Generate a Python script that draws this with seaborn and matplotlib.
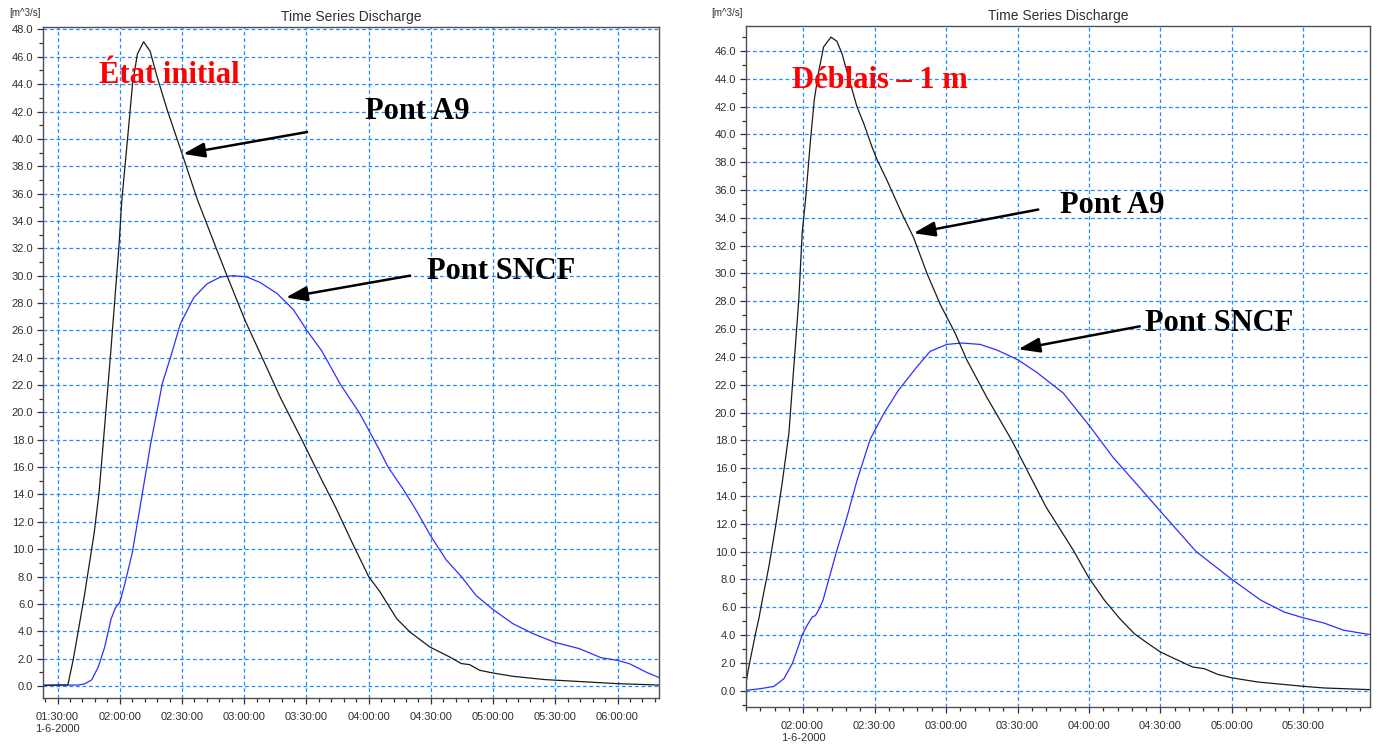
import matplotlib
matplotlib.use("Agg")
import matplotlib.pyplot as plt
import matplotlib.dates as mdates
from matplotlib.ticker import MultipleLocator, FuncFormatter
import pandas as pd
import seaborn as sns

DAY = "2000-06-01"
DATE_LABEL = "1-6-2000"
TITLE = "Time Series Discharge"
UNIT = "[m^3/s]"

# --- Initial state -------------------------------------------------------
init_a9_time = ["01:23:00", "01:35:00", "01:37:40", "01:42:50", "01:47:36", "01:50:00",
                "01:52:24", "01:55:36", "01:59:36", "02:01:00", "02:04:00", "02:06:10",
                "02:08:30", "02:11:30", "02:14:40", "02:18:05", "02:22:55", "02:30:05",
                "02:37:20", "02:46:54", "02:51:42", "03:00:30", "03:09:18", "03:17:24",
                "03:27:48", "03:36:36", "03:44:18", "03:52:00", "04:00:00", "04:05:24",
                "04:13:30", "04:19:54", "04:29:30", "04:39:06", "04:44:42", "04:48:42",
                "04:53:30", "04:59:54", "05:09:30", "05:24:48", "06:00:00", "06:20:00"]
init_a9_q = [0.05, 0.08, 2.0, 6.5, 11.1, 14.1,
             18.4, 24.3, 32.1, 35.5, 40.4, 44.0,
             46.2, 47.1, 46.4, 44.5, 42.1, 38.9,
             35.6, 31.85, 30.0, 26.7, 23.8, 21.1,
             18.0, 15.3, 13.0, 10.5, 8.0, 6.9,
             4.93, 3.95, 2.85, 2.12, 1.64, 1.56,
             1.15, 0.95, 0.71, 0.47, 0.17, 0.07]

init_sncf_time = ["01:23:00", "01:40:00", "01:43:00", "01:46:30", "01:49:40", "01:52:45",
                  "01:55:50", "01:58:00", "02:00:00", "02:02:00", "02:06:00", "02:09:42",
                  "02:14:54", "02:20:30", "02:24:30", "02:29:18", "02:35:42", "02:42:06",
                  "02:48:30", "02:54:54", "03:01:18", "03:07:42", "03:15:48", "03:23:48",
                  "03:30:12", "03:37:24", "03:46:12", "03:55:48", "04:05:24", "04:09:24",
                  "04:16:36", "04:23:06", "04:29:48", "04:37:30", "04:44:42", "04:51:54",
                  "04:59:54", "05:09:30", "05:19:12", "05:29:36", "05:41:36", "05:52:00",
                  "05:59:42", "06:05:36", "06:14:00", "06:20:00"]
init_sncf_q = [0.05, 0.07, 0.15, 0.45, 1.4, 2.85,
               4.9, 5.75, 6.1, 7.2, 9.7, 13.0,
               17.7, 22.1, 24.05, 26.5, 28.4, 29.4,
               29.9, 30.0, 29.9, 29.5, 28.7, 27.5,
               26.0, 24.5, 22.1, 19.9, 17.2, 16.0,
               14.4, 12.8, 11.0, 9.2, 8.0, 6.6,
               5.6, 4.56, 3.83, 3.2, 2.73, 2.07,
               1.88, 1.64, 1.0, 0.62]

# --- Excavation 1 m ------------------------------------------------------
debl_a9_time = ["01:36:00", "01:37:10", "01:40:00", "01:41:25", "01:42:50", "01:45:35",
                "01:48:25", "01:51:10", "01:54:00", "01:56:05", "01:58:10", "01:59:35",
                "02:01:00", "02:03:05", "02:04:40", "02:06:30", "02:08:35", "02:11:40",
                "02:14:10", "02:16:20", "02:19:05", "02:22:35", "02:25:25", "02:28:55",
                "02:31:00", "02:35:12", "02:41:30", "02:46:20", "02:52:00", "02:57:30",
                "03:03:50", "03:08:40", "03:17:06", "03:27:35", "03:42:00", "03:53:25",
                "04:00:00", "04:06:30", "04:12:50", "04:19:00", "04:24:40", "04:30:00",
                "04:35:55", "04:43:30", "04:48:25", "04:54:00", "04:59:40", "05:10:50",
                "05:30:00", "05:38:40", "05:58:00"]
debl_a9_q = [0.55, 1.7, 4.1, 5.2, 6.5, 8.9,
             11.8, 14.9, 18.5, 23.3, 28.1, 32.9,
             35.3, 39.6, 42.5, 44.5, 46.3, 47.0,
             46.7, 45.8, 44.1, 42.0, 40.8, 39.1,
             38.2, 36.7, 34.3, 32.6, 30.0, 27.8,
             25.7, 23.8, 21.1, 18.0, 13.2, 10.1,
             8.1, 6.5, 5.2, 4.1, 3.4, 2.78,
             2.3, 1.7, 1.58, 1.17, 0.93, 0.62,
             0.31, 0.19, 0.07]

debl_sncf_time = ["01:36:00", "01:42:05", "01:47:40", "01:51:55", "01:55:25", "01:58:10",
                  "01:59:35", "02:01:40", "02:03:50", "02:05:10", "02:06:30", "02:08:20",
                  "02:14:10", "02:18:25", "02:22:35", "02:28:12", "02:33:45", "02:40:00",
                  "02:47:50", "02:53:20", "03:00:20", "03:06:36", "03:14:18", "03:21:18",
                  "03:30:06", "03:38:00", "03:49:12", "04:00:24", "04:10:00", "04:21:20",
                  "04:30:00", "04:45:00", "05:00:00", "05:12:10", "05:22:00", "05:29:40",
                  "05:38:40", "05:47:00", "05:58:00"]
debl_sncf_q = [0.02, 0.14, 0.3, 0.86, 1.94, 3.26,
               4.0, 4.7, 5.3, 5.4, 5.8, 6.5,
               10.1, 12.5, 15.1, 18.1, 19.9, 21.6,
               23.3, 24.4, 24.9, 25.0, 24.9, 24.5,
               23.8, 22.9, 21.4, 19.0, 16.8, 14.6,
               12.9, 10.0, 8.0, 6.5, 5.65, 5.25,
               4.86, 4.34, 4.03]

COLOR_A9 = "#1c1c14"
COLOR_SNCF = "#2f2fff"
GRID_BLUE = "#1f8cff"


def ts(t):
    return pd.to_datetime(DAY + " " + pd.Series(t))


def frame(times, values):
    return pd.DataFrame({"time": ts(times), "q": values})


sns.set_style("white")
plt.rcParams["font.family"] = ["Liberation Sans", "DejaVu Sans"]
plt.rcParams["axes.unicode_minus"] = False

fig = plt.figure(figsize=(13.78, 7.44), dpi=100)
ax_l = fig.add_axes([43 / 1378, 1 - 698.3 / 744, (659 - 43) / 1378, (698.3 - 26.7) / 744])
ax_r = fig.add_axes([746 / 1378, 1 - 707.3 / 744, (1370 - 746) / 1378, (707.3 - 26) / 744])


def style_axes(ax, xlim, ylim):
    ax.set_xlim(ts(xlim))
    ax.set_ylim(*ylim)
    ax.xaxis.set_major_locator(mdates.MinuteLocator(byminute=[0, 30]))
    ax.xaxis.set_minor_locator(mdates.MinuteLocator(byminute=range(0, 60, 6)))
    lo = mdates.date2num(ts(xlim)[0])

    def fmt(x, pos):
        s = mdates.num2date(x).strftime("%H:%M:%S")
        if lo <= x < lo + 30 / 1440:
            s += "\n" + DATE_LABEL
        return s

    ax.xaxis.set_major_formatter(FuncFormatter(fmt))
    ax.yaxis.set_major_locator(MultipleLocator(2))
    ax.yaxis.set_minor_locator(MultipleLocator(1))
    ax.yaxis.set_major_formatter(FuncFormatter(lambda v, p: f"{v:.1f}"))
    ax.grid(True, which="major", color=GRID_BLUE, linestyle=(0, (3, 2.2)), linewidth=0.9)
    ax.set_axisbelow(True)
    for sp in ax.spines.values():
        sp.set_color("#505050")
        sp.set_linewidth(1.0)
        sp.set_visible(True)
    ax.tick_params(which="both", bottom=True, left=True, top=False, right=False)
    ax.tick_params(which="major", direction="out", length=4, width=0.9, color="#303030",
                   labelsize=8, labelcolor="#303030", pad=3)
    ax.tick_params(which="minor", direction="out", length=3, width=0.9, color="#303030")
    ax.tick_params(axis="x", which="major", pad=6)
    ax.set_xlabel("")
    ax.set_ylabel("")
    ax.set_title(TITLE, fontsize=10, color="#303030", pad=4)
    for lab in ax.get_xticklabels():
        lab.set_multialignment("left")


def draw(ax, a9_t, a9_q, sncf_t, sncf_q):
    sns.lineplot(data=frame(sncf_t, sncf_q), x="time", y="q", ax=ax,
                 color=COLOR_SNCF, linewidth=0.9, estimator=None)
    sns.lineplot(data=frame(a9_t, a9_q), x="time", y="q", ax=ax,
                 color=COLOR_A9, linewidth=0.9, estimator=None)


draw(ax_l, init_a9_time, init_a9_q, init_sncf_time, init_sncf_q)
draw(ax_r, debl_a9_time, debl_a9_q, debl_sncf_time, debl_sncf_q)
style_axes(ax_l, ["01:23:00", "06:20:00"], (-0.9, 48.2))
style_axes(ax_r, ["01:36:00", "05:58:00"], (-1.2, 47.8))

fig.text(9 / 1378, 1 - 13 / 744, UNIT, fontsize=7, color="#303030", va="center", ha="left")
fig.text(711 / 1378, 1 - 13 / 744, UNIT, fontsize=7, color="#303030", va="center", ha="left")

SERIF = ["Liberation Serif", "DejaVu Serif"]
label_kw = dict(fontsize=22, fontweight="bold", family=SERIF, va="center", ha="left")
arrow_kw = dict(arrowstyle="-|>,head_length=1.3,head_width=0.45", color="black",
                lw=1.8, shrinkA=0, shrinkB=0)


def note(ax, text, pos, color="black"):
    ax.text(ts([pos[0]])[0], pos[1], text, color=color, **label_kw)


def arrow(ax, head, tail):
    ax.annotate("", xy=(ts([head[0]])[0], head[1]), xytext=(ts([tail[0]])[0], tail[1]),
                arrowprops=arrow_kw)


note(ax_l, "État initial", ("01:49:50", 44.6), color="#ff0000")
note(ax_l, "Pont A9", ("03:58:10", 42.0))
arrow(ax_l, ("02:30:35", 38.9), ("03:30:20", 40.5))
note(ax_l, "Pont SNCF", ("04:28:00", 30.3))
arrow(ax_l, ("03:20:06", 28.4), ("04:20:00", 30.0))

note(ax_r, "Déblais – 1 m", ("01:55:24", 43.9), color="#ff0000")
note(ax_r, "Pont A9", ("03:47:50", 34.9))
arrow(ax_r, ("02:46:20", 32.9), ("03:38:43", 34.6))
note(ax_r, "Pont SNCF", ("04:23:25", 26.4))
arrow(ax_r, ("03:30:20", 24.55), ("04:21:20", 26.2))

fig.savefig("out.png", dpi=100, facecolor="white")
